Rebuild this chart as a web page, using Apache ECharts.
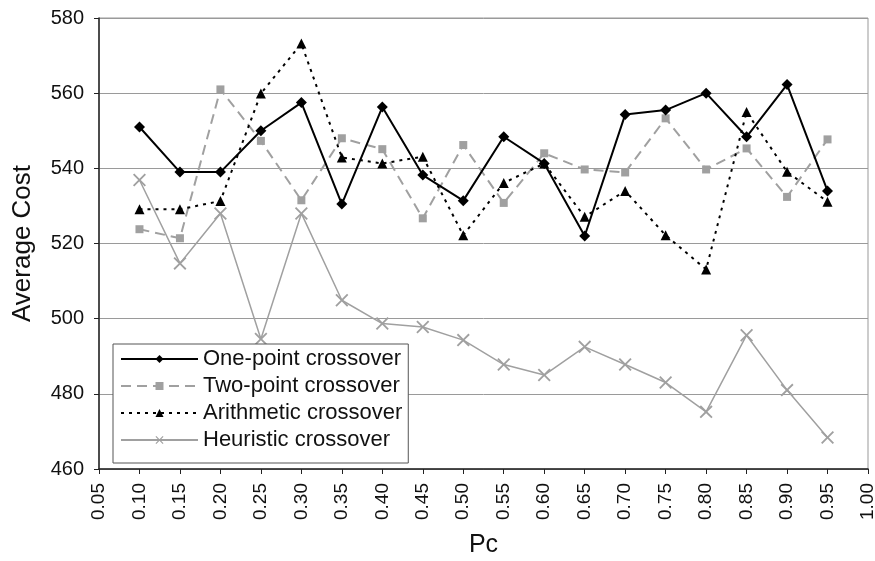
<!DOCTYPE html>
<html lang="en">
<head>
    <meta charset="UTF-8">
    <title>Average Cost vs Pc</title>
    <script src="https://cdn.jsdelivr.net/npm/echarts@6/dist/echarts.min.js"></script>
    <style>
        body { margin: 0; background: #fff; }
        #main { width: 875px; height: 561px; }
    </style>
</head>
<body>
<div id="main"></div>
<script>
    // crossover probability (x) and average cost of each operator
    let pc = [0.10, 0.15, 0.20, 0.25, 0.30, 0.35, 0.40, 0.45, 0.50, 0.55,
        0.60, 0.65, 0.70, 0.75, 0.80, 0.85, 0.90, 0.95];
    let onePoint = [551, 539, 539, 550, 557.5, 530.5, 556.3, 538.2, 531.4, 548.4,
        541.3, 522, 554.3, 555.5, 560, 548.4, 562.3, 534];
    let twoPoint = [523.8, 521.4, 561, 547.3, 531.5, 548, 545.1, 526.7, 546.2, 530.8,
        544, 539.7, 538.9, 553.3, 539.7, 545.3, 532.4, 547.7];
    let arithmetic = [529.1, 529.1, 531.3, 559.9, 573.2, 542.9, 541.3, 543.1, 522.2, 536.1,
        541.3, 527.1, 534, 522.2, 513.1, 555, 539.1, 531.1];
    let heuristic = [536.9, 514.7, 528, 494.6, 528, 504.9, 498.7, 497.8, 494.3, 487.8,
        485, 492.5, 487.8, 483, 475.2, 495.6, 481, 468.4];

    let font = 'Arial, "Liberation Sans", sans-serif';
    let crossMark = 'path://M0,1 L1,0 L5,4 L9,0 L10,1 L6,5 L10,9 L9,10 L5,6 L1,10 L0,9 L4,5 Z';

    function pairs(vals) {
        return pc.map(function (x, i) { return [x, vals[i]]; });
    }

    let chart = echarts.init(document.getElementById('main'));
    chart.setOption({
        animation: false,
        textStyle: { fontFamily: font, color: '#111' },
        grid: {
            left: 99, right: 7, top: 18, bottom: 92,
            outerBoundsMode: 'none',
            show: true, borderColor: '#999', borderWidth: 1
        },
        legend: {
            orient: 'vertical',
            left: 113, top: 344,
            backgroundColor: '#fff',
            borderColor: '#555', borderWidth: 1,
            padding: [4, 6, 12, 7],
            itemGap: 5,
            itemWidth: 77, itemHeight: 10,
            textStyle: { fontSize: 22, color: '#111', fontFamily: font },
            data: ['One-point crossover', 'Two-point crossover', 'Arithmetic crossover', 'Heuristic crossover']
        },
        xAxis: {
            type: 'value',
            min: 0.05, max: 1.0, interval: 0.05,
            name: 'Pc', nameLocation: 'middle', nameGap: 64,
            nameTextStyle: { fontSize: 25, color: '#111' },
            axisLine: { onZero: false, lineStyle: { color: '#222', width: 1.5 } },
            axisTick: { show: true, inside: false, length: 5, lineStyle: { color: '#222' } },
            axisLabel: {
                rotate: 90, fontSize: 19, color: '#111', margin: 14,
                formatter: function (v) { return v.toFixed(2); }
            },
            splitLine: { show: false }
        },
        yAxis: {
            type: 'value',
            min: 460, max: 580, interval: 20,
            name: 'Average Cost', nameLocation: 'middle', nameGap: 63,
            nameTextStyle: { fontSize: 26, color: '#111' },
            axisLine: { show: true, lineStyle: { color: '#222', width: 1.5 } },
            axisTick: { show: true, length: 5, lineStyle: { color: '#222' } },
            axisLabel: { fontSize: 20, color: '#111', margin: 15 },
            splitLine: { lineStyle: { color: '#9a9a9a', width: 1 } }
        },
        series: [
            {
                name: 'One-point crossover', type: 'line',
                data: pairs(onePoint),
                symbol: 'diamond', symbolSize: 11,
                lineStyle: { color: '#000', width: 2 },
                itemStyle: { color: '#000' },
                z: 5
            },
            {
                name: 'Two-point crossover', type: 'line',
                data: pairs(twoPoint),
                symbol: 'rect', symbolSize: 8,
                lineStyle: { color: '#a0a0a0', width: 2, type: [10, 6] },
                itemStyle: { color: '#a0a0a0' },
                z: 3
            },
            {
                name: 'Arithmetic crossover', type: 'line',
                data: pairs(arithmetic),
                symbol: 'triangle', symbolSize: 10,
                lineStyle: { color: '#000', width: 2, type: [3, 5] },
                itemStyle: { color: '#000' },
                z: 4
            },
            {
                name: 'Heuristic crossover', type: 'line',
                data: pairs(heuristic),
                symbol: crossMark, symbolSize: 13,
                lineStyle: { color: '#a0a0a0', width: 1.5 },
                itemStyle: { color: '#a0a0a0' },
                z: 2
            }
        ]
    });
</script>
</body>
</html>
